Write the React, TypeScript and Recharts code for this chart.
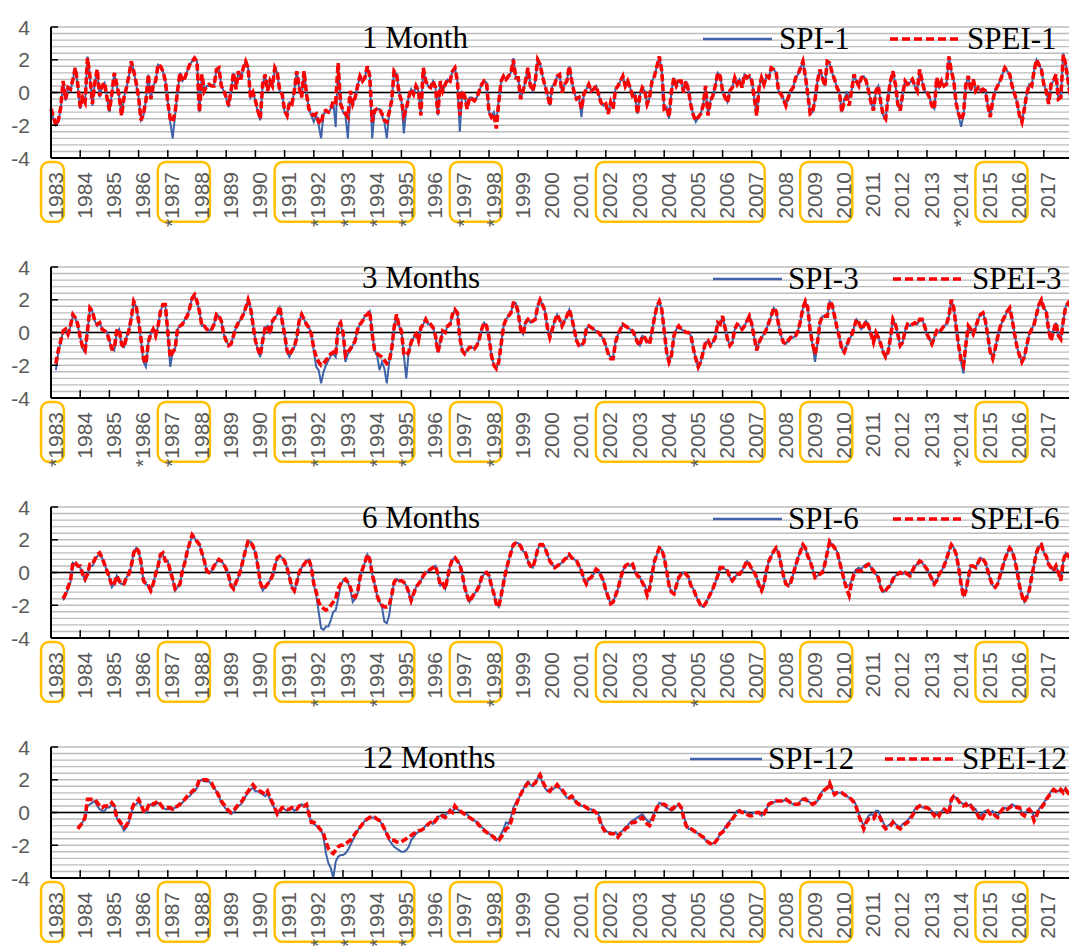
import {
  LineChart,
  Line,
  XAxis,
  YAxis,
  CartesianGrid,
  ReferenceLine,
  ReferenceArea,
  Customized,
} from "recharts";

// ---- data (monthly, Jan 1983 .. Dec 2017) ----

const yearLabels = [
  "1983", "1984", "1985", "1986", "1987", "1988", "1989", "1990", "1991", "1992",
  "1993", "1994", "1995", "1996", "1997", "1998", "1999", "2000", "2001", "2002",
  "2003", "2004", "2005", "2006", "2007", "2008", "2009", "2010", "2011", "2012",
  "2013", "2014", "2015", "2016", "2017",
];

const yTicks = [-4, -2, 0, 2, 4];
const gridValues = [
  -4, -3.6, -3.2, -2.8, -2.4, -2, -1.6, -1.2, -0.8, -0.4, 0,
  0.4, 0.8, 1.2, 1.6, 2, 2.4, 2.8, 3.2, 3.6, 4,
];

// highlighted year groups (orange boxes)
const boxGroups = [
  [1983, 1983], [1987, 1988], [1991, 1995], [1997, 1998],
  [2002, 2007], [2009, 2010], [2015, 2016],
];

// years marked with an asterisk, per panel
const stars1 = [1987, 1992, 1993, 1994, 1995, 1997, 1998, 2014];
const stars3 = [1983, 1986, 1987, 1992, 1994, 1995, 1998, 2005, 2014];
const stars6 = [1992, 1994, 1998, 2005];
const stars12 = [1992, 1993, 1994, 1995];

const spi1 = [
  -1.1, -1.6, -2.0, -1.8, -1.0, 0.7, -0.5, 0.3, 0.1, 0.8, 1.5, 0.4,
  -1.0, -0.4, -0.6, 2.2, 1.0, -0.8, 0.6, 1.4, -0.3, 0.4, 0.6, -0.3,
  -1.2, -0.1, 1.2, 0.4, -0.2, -1.4, -0.3, 0.3, 1.0, 1.9, 1.3, 0.5,
  -0.3, -1.7, -1.4, -0.5, 1.1, -0.4, 0.4, 0.7, 1.7, 1.6, 1.3, 0.7,
  -0.6, -1.8, -2.8, -1.4, 0.0, 1.2, 0.7, 0.9, 1.3, 1.7, 1.9, 2.1,
  1.9, -1.2, 1.1, 0.1, 0.4, 0.4, 0.4, 0.4, 1.4, 1.5, 0.4, 0.1,
  -0.3, -0.9, 0.1, 1.2, 0.2, 1.3, 0.8, 1.5, 1.9, 1.5, -0.3, 0.0,
  -0.5, -1.2, -1.7, 0.5, 1.1, 0.1, 0.7, 0.4, 1.5, 1.2, 0.1, -0.1,
  -1.2, -1.4, -0.6, -0.7, 0.1, 1.3, 0.3, -0.3, 1.3, -0.1, -1.0, -1.4,
  -1.8, -1.4, -2.0, -2.8, -1.3, -1.2, -1.2, -1.0, -0.6, -2.1, 1.8, -0.6,
  -1.2, -1.4, -2.8, -0.2, -0.7, -0.3, 0.4, 1.0, 0.7, 0.9, 1.6, 1.0,
  -2.8, -1.1, -1.0, -1.0, -1.4, -1.8, -2.8, -1.2, -0.5, 1.3, 1.1, 0.0,
  -0.5, -2.5, -1.0, -0.3, 0.2, -0.1, 0.4, 0.1, -1.4, 1.5, 0.7, 0.4,
  0.3, 0.7, 0.3, -1.4, 0.7, 0.1, 0.5, 0.8, 0.7, 1.3, 1.5, 0.7,
  -2.4, 0.0, -0.2, -1.0, -0.3, -0.3, -0.5, -0.3, 0.1, 0.5, 0.7, 0.6,
  -1.2, -1.5, -1.2, -1.8, -0.5, 0.7, 1.0, 0.8, 1.0, 1.2, 2.1, 0.9,
  0.9, -0.4, 0.1, 0.7, 1.5, 0.4, 0.1, 0.7, 2.0, 1.7, 1.0, 0.4,
  -0.1, -0.8, 0.4, 0.5, 1.0, 1.1, 0.0, 0.5, 0.7, 1.6, 0.7, 0.0,
  -0.4, -0.3, -1.5, -0.1, 0.2, 0.5, 0.1, 0.2, 0.4, -0.1, -0.6, -0.8,
  -0.7, -1.3, -0.6, -1.0, 0.2, 0.4, 0.7, 1.0, 0.4, 0.7, 0.3, -0.2,
  -0.1, -1.3, -0.2, 0.3, 0.1, -0.7, -0.3, 0.7, 1.0, 1.6, 2.2, 1.3,
  -1.0, -0.9, -1.6, 0.1, 0.9, 0.4, 0.7, 0.7, 0.0, 0.7, 0.1, -0.8,
  -1.4, -1.8, -1.5, -1.3, -0.8, 0.4, -1.4, -0.5, -0.2, 0.4, 1.2, 1.0,
  0.1, -0.3, -0.6, 0.1, 0.3, 0.9, 0.5, 0.8, 0.3, 1.1, 0.9, 1.0,
  0.7, -0.3, -1.4, 0.3, 0.9, 0.5, 1.0, 0.9, 1.5, 1.4, 1.2, 0.1,
  -0.1, -0.4, -0.8, -0.3, 0.1, 0.3, 0.9, 1.1, 1.5, 1.9, 1.0, -0.1,
  -1.3, -1.2, -0.4, 0.7, 1.4, 0.9, 0.4, 1.9, 1.8, 1.2, 0.8, 0.3,
  0.0, -1.2, -0.4, 0.0, -0.3, 0.1, 1.1, 0.7, 0.4, 0.9, 1.0, 0.7,
  0.1, -0.6, -1.1, 0.1, 0.4, -0.6, -1.4, -1.6, -0.3, 0.7, 1.3, 0.5,
  -0.7, -1.1, -0.1, 0.7, 0.5, 0.6, 0.8, 0.4, 0.1, 1.4, 0.7, 0.1,
  0.0, -0.3, -0.8, -1.0, 0.9, 0.3, 0.7, 0.4, 0.5, 2.2, 1.3, 0.7,
  -0.7, -1.4, -2.1, -1.4, 0.5, 1.0, 0.1, 0.8, 0.1, 0.3, 0.1, 0.2,
  0.1, -0.8, -1.5, -0.5, 0.1, 0.4, 0.7, 1.1, 1.5, 1.3, 1.1, 0.4,
  -0.1, -0.6, -1.4, -1.8, -1.0, -0.1, 0.5, 0.4, 1.3, 2.0, 1.7, 1.4,
  0.5, 0.1, -0.7, 0.5, 0.7, 1.1, -0.4, -0.3, 2.4, 1.7, 0.7, -0.4,
];

const spei1 = [
  -1.0, -1.5, -2.0, -1.7, -0.9, 0.7, -0.4, 0.3, 0.2, 0.8, 1.5, 0.5,
  -0.9, -0.3, -0.6, 2.1, 1.0, -0.7, 0.6, 1.4, -0.2, 0.4, 0.6, -0.3,
  -1.1, -0.1, 1.2, 0.5, -0.2, -1.4, -0.3, 0.3, 1.0, 1.9, 1.3, 0.6,
  -0.3, -1.7, -1.3, -0.5, 1.1, -0.4, 0.4, 0.7, 1.7, 1.6, 1.3, 0.7,
  -0.6, -1.6, -1.8, -1.2, 0.1, 1.2, 0.7, 0.9, 1.3, 1.7, 1.9, 2.1,
  1.9, -1.2, 1.1, 0.1, 0.4, 0.5, 0.4, 0.4, 1.4, 1.5, 0.4, 0.1,
  -0.3, -0.8, 0.1, 1.2, 0.2, 1.3, 0.8, 1.5, 1.9, 1.5, -0.3, 0.0,
  -0.5, -1.1, -1.6, 0.5, 1.1, 0.1, 0.7, 0.4, 1.5, 1.2, 0.1, -0.1,
  -1.1, -1.4, -0.6, -0.7, 0.1, 1.3, 0.3, -0.3, 1.3, -0.1, -1.0, -1.3,
  -1.4, -1.3, -1.8, -1.9, -1.2, -1.1, -1.2, -1.0, -0.5, -0.6, 1.8, -0.7,
  -1.1, -1.3, -1.5, 0.1, -0.7, -0.3, 0.4, 1.0, 0.7, 0.9, 1.6, 1.0,
  -1.8, -1.1, -1.0, -1.0, -1.3, -1.7, -1.8, -1.2, -0.5, 1.3, 1.1, 0.0,
  -0.5, -1.4, -1.0, -0.3, 0.2, -0.1, 0.4, 0.1, -1.4, 1.5, 0.7, 0.4,
  0.3, 0.7, 0.3, -1.3, 0.7, 0.1, 0.5, 0.8, 0.7, 1.3, 1.5, 0.7,
  -1.4, 0.1, -0.2, -1.0, -0.3, -0.4, -0.5, -0.3, 0.1, 0.5, 0.7, 0.6,
  -1.2, -1.5, -1.3, -2.2, -0.6, 0.7, 1.0, 0.8, 1.0, 1.2, 2.0, 0.9,
  0.9, -0.4, 0.1, 0.7, 1.5, 0.4, 0.1, 0.7, 2.0, 1.7, 1.0, 0.4,
  -0.1, -0.8, 0.4, 0.5, 1.0, 1.1, 0.0, 0.5, 0.7, 1.6, 0.7, 0.0,
  -0.4, -0.3, -1.0, -0.1, 0.2, 0.5, 0.1, 0.2, 0.4, -0.1, -0.6, -0.8,
  -0.7, -1.3, -0.6, -1.0, 0.2, 0.4, 0.7, 1.0, 0.4, 0.7, 0.3, -0.2,
  -0.1, -1.3, -0.2, 0.3, 0.1, -0.7, -0.3, 0.7, 1.0, 1.6, 2.2, 1.3,
  -1.0, -0.9, -1.5, 0.1, 0.9, 0.4, 0.7, 0.7, 0.0, 0.7, 0.1, -0.8,
  -1.4, -1.7, -1.5, -1.3, -0.8, 0.4, -1.4, -0.5, -0.2, 0.4, 1.2, 1.0,
  0.1, -0.3, -0.6, 0.1, 0.3, 0.9, 0.5, 0.8, 0.3, 1.1, 0.9, 1.0,
  0.7, -0.3, -1.4, 0.3, 0.9, 0.5, 1.0, 0.9, 1.5, 1.4, 1.2, 0.1,
  -0.1, -0.4, -0.8, -0.3, 0.1, 0.3, 0.9, 1.1, 1.5, 1.9, 1.0, -0.1,
  -1.3, -1.2, -0.4, 0.7, 1.4, 0.9, 0.4, 1.9, 1.8, 1.2, 0.8, 0.3,
  0.0, -1.2, -0.5, -0.3, -0.8, 0.1, 1.1, 0.7, 0.4, 0.9, 1.0, 0.7,
  0.1, -0.6, -1.1, 0.1, 0.4, -0.6, -1.4, -1.6, -0.3, 0.7, 1.3, 0.5,
  -0.7, -1.1, -0.1, 0.7, 0.5, 0.6, 0.8, 0.4, 0.1, 1.4, 0.7, 0.1,
  0.0, -0.3, -0.8, -1.0, 0.9, 0.3, 0.7, 0.4, 0.5, 2.2, 1.3, 0.7,
  -0.7, -1.3, -1.7, -1.3, 0.5, 1.0, 0.1, 0.8, 0.1, 0.3, 0.1, 0.2,
  0.1, -0.8, -1.5, -0.5, 0.1, 0.4, 0.7, 1.1, 1.5, 1.3, 1.1, 0.4,
  -0.1, -0.6, -1.4, -1.8, -1.0, -0.1, 0.5, 0.4, 1.3, 2.0, 1.7, 1.4,
  0.5, 0.1, -0.7, 0.5, 0.7, 1.1, -0.4, -0.3, 2.3, 1.7, 0.7, -0.4,
];

const spi3 = [
  null, null, -2.3, -1.2, -0.6, 0.1, 0.2, -0.1, 0.4, 1.0, 0.9, 0.4,
  -0.3, -1.0, -1.2, 0.1, 1.4, 1.3, 0.7, 0.4, 0.6, 0.2, 0.1, 0.0,
  -0.5, -1.0, -1.1, 0.0, 0.2, -0.8, -0.9, -0.3, 0.1, 0.9, 1.8, 1.6,
  0.7, -0.5, -1.8, -2.1, -0.6, -0.1, 0.2, -0.2, 0.4, 1.3, 1.7, 1.7,
  0.0, -2.1, -1.2, -1.0, 0.2, 0.4, 0.5, 0.8, 1.0, 1.5, 2.1, 2.2,
  1.9, 1.3, 0.4, 0.4, 0.2, 0.1, 0.2, 0.5, 1.1, 1.0, 0.7, -0.1,
  -0.5, -0.8, -0.7, -0.2, 0.3, 0.6, 0.8, 1.1, 1.5, 2.0, 1.5, 0.5,
  -0.5, -1.1, -1.5, -0.5, 0.3, 0.4, -0.1, 0.7, 0.9, 1.1, 1.5, 0.7,
  -0.1, -1.2, -1.5, -1.1, -0.9, -0.3, 0.7, 1.1, 0.8, 0.5, 0.3, -0.1,
  -1.1, -2.1, -2.3, -3.1, -2.4, -2.0, -1.7, -1.4, -1.3, -1.5, 0.4, 0.5,
  -0.1, -1.8, -1.3, -1.1, -0.8, -0.5, 0.2, 0.5, 0.7, 1.0, 1.1, 1.3,
  -0.1, -1.1, -1.4, -2.3, -1.8, -2.2, -3.1, -1.8, -1.0, 0.3, 1.1, 0.4,
  0.1, -1.4, -2.8, -1.2, -0.6, -0.3, -0.1, -0.5, 0.3, 0.5, 0.8, 0.5,
  0.5, 0.3, -0.2, -1.2, -0.6, 0.1, 0.0, 0.4, 0.5, 1.1, 1.4, 1.2,
  -0.3, -1.1, -1.3, -1.1, -0.9, -0.9, -1.0, -0.8, -0.4, 0.2, 0.6, 0.4,
  -0.3, -1.4, -2.0, -2.2, -1.8, -0.7, 0.4, 0.8, 1.0, 1.2, 1.8, 1.8,
  1.2, 0.2, -0.1, 0.6, 0.8, 0.6, 0.7, 0.8, 1.6, 2.0, 1.7, 1.3,
  0.3, -0.3, 0.2, 0.7, 1.1, 0.8, 0.4, 0.7, 1.0, 1.4, 0.9, 0.2,
  -0.5, -0.8, -0.8, -0.6, 0.2, 0.4, 0.3, 0.2, 0.1, 0.0, -0.2, -0.4,
  -0.8, -1.3, -1.5, -1.5, -0.6, -0.1, 0.2, 0.5, 0.4, 0.3, 0.2, 0.1,
  -0.2, -0.6, -0.8, -0.2, -0.3, -0.6, -0.6, 0.1, 0.9, 1.6, 1.9, 1.4,
  0.1, -1.2, -1.8, -1.4, -0.2, 0.2, 0.4, 0.2, 0.1, 0.0, 0.0, -0.2,
  -1.0, -1.6, -2.2, -1.8, -1.2, -0.6, -0.5, -0.8, -0.6, -0.3, 0.6, 0.5,
  1.0, 0.3, -0.4, -0.8, -0.6, 0.2, 0.5, 0.4, 0.2, 0.4, 0.7, 1.0,
  0.5, -0.3, -1.1, -0.6, -0.3, -0.1, 0.2, 0.6, 1.0, 1.5, 1.3, 0.5,
  -0.2, -0.6, -0.7, -0.5, -0.3, -0.3, -0.2, 0.1, 0.7, 1.5, 1.9, 1.5,
  0.1, -0.8, -1.8, -0.6, 0.6, 1.0, 1.0, 1.0, 1.9, 1.7, 1.0, 0.3,
  -0.3, -1.0, -1.2, -0.8, -0.4, -0.2, 0.3, 0.8, 0.6, 0.2, 0.4, 0.7,
  0.4, -0.1, -0.6, 0.0, -0.3, -0.7, -1.2, -1.5, -1.2, -0.3, 0.8, 0.5,
  -0.1, -0.8, -0.6, 0.1, 0.5, 0.4, 0.5, 0.6, 0.5, 0.8, 0.8, 0.4,
  -0.1, -0.4, -0.7, -0.3, 0.1, 0.0, 0.2, 0.4, 0.5, 1.0, 2.0, 1.5,
  0.3, -0.8, -1.8, -2.5, -0.7, 0.4, 0.2, -0.1, 0.3, 0.8, 1.1, 1.2,
  0.7, -0.2, -1.2, -1.6, -1.0, -0.3, 0.3, 0.7, 1.0, 1.3, 1.5, 0.8,
  -0.1, -0.9, -1.4, -1.8, -1.5, -0.8, -0.1, 0.2, 0.5, 1.1, 1.7, 2.0,
  1.5, 1.3, 0.1, 0.0, 0.1, 0.6, -0.2, -0.4, 0.7, 1.6, 1.8, 1.5,
];

const spei3 = [
  null, null, -1.9, -1.1, -0.5, 0.1, 0.2, -0.1, 0.4, 1.1, 0.9, 0.5,
  -0.3, -0.9, -1.1, 0.1, 1.5, 1.3, 0.7, 0.5, 0.6, 0.2, 0.1, 0.0,
  -0.5, -1.0, -1.0, 0.1, 0.2, -0.7, -0.9, -0.3, 0.1, 0.9, 1.9, 1.6,
  0.7, -0.4, -1.6, -1.9, -0.6, -0.1, 0.2, -0.2, 0.4, 1.3, 1.7, 1.7,
  0.0, -1.5, -1.2, -1.0, 0.2, 0.4, 0.5, 0.8, 1.0, 1.5, 2.1, 2.3,
  1.9, 1.3, 0.4, 0.4, 0.2, 0.1, 0.2, 0.5, 1.1, 1.0, 0.7, -0.1,
  -0.5, -0.8, -0.7, -0.2, 0.3, 0.6, 0.8, 1.1, 1.5, 2.0, 1.5, 0.5,
  -0.5, -1.0, -1.4, -0.5, 0.3, 0.4, -0.1, 0.7, 0.9, 1.1, 1.6, 0.7,
  -0.1, -1.1, -1.4, -1.1, -0.9, -0.3, 0.7, 1.1, 0.8, 0.5, 0.3, -0.1,
  -1.0, -1.5, -1.8, -2.0, -1.9, -1.7, -1.5, -1.3, -1.2, -1.4, 0.4, 0.6,
  0.0, -1.4, -1.2, -1.0, -0.8, -0.5, 0.2, 0.5, 0.7, 1.0, 1.1, 1.3,
  -0.1, -1.1, -1.3, -1.4, -1.5, -1.7, -1.9, -1.8, -1.0, 0.3, 1.1, 0.4,
  0.1, -1.3, -1.4, -1.2, -0.6, -0.3, -0.1, -0.5, 0.3, 0.5, 0.8, 0.5,
  0.5, 0.3, -0.2, -1.2, -0.6, 0.1, 0.0, 0.4, 0.5, 1.1, 1.4, 1.2,
  -0.3, -1.1, -1.3, -1.1, -0.9, -0.9, -1.0, -0.8, -0.4, 0.2, 0.6, 0.4,
  -0.3, -1.4, -2.0, -2.2, -1.8, -0.7, 0.4, 0.8, 1.0, 1.2, 1.8, 1.8,
  1.2, 0.2, -0.1, 0.6, 0.8, 0.6, 0.7, 0.8, 1.6, 2.0, 1.7, 1.3,
  0.3, -0.3, 0.2, 0.7, 1.1, 0.8, 0.4, 0.7, 1.0, 1.4, 0.9, 0.2,
  -0.5, -0.8, -0.8, -0.6, 0.2, 0.4, 0.3, 0.2, 0.1, 0.0, -0.2, -0.4,
  -0.8, -1.3, -1.6, -1.6, -0.6, -0.1, 0.2, 0.5, 0.4, 0.3, 0.2, 0.1,
  -0.2, -0.6, -0.8, -0.2, -0.3, -0.6, -0.7, 0.1, 0.9, 1.6, 1.9, 1.4,
  0.1, -1.2, -1.8, -1.4, -0.2, 0.2, 0.4, 0.2, 0.1, 0.0, 0.0, -0.2,
  -1.0, -1.6, -2.1, -1.8, -1.2, -0.6, -0.5, -0.8, -0.6, -0.3, 0.6, 0.5,
  1.0, 0.3, -0.4, -0.8, -0.6, 0.2, 0.5, 0.4, 0.2, 0.4, 0.7, 1.0,
  0.5, -0.3, -1.1, -0.6, -0.3, -0.1, 0.2, 0.6, 1.0, 1.5, 1.3, 0.5,
  -0.2, -0.6, -0.7, -0.5, -0.3, -0.3, -0.2, 0.1, 0.7, 1.5, 1.9, 1.5,
  0.1, -0.7, -1.3, -0.6, 0.6, 1.0, 1.0, 1.0, 1.9, 1.7, 1.0, 0.3,
  -0.3, -1.0, -1.2, -0.8, -0.4, -0.2, 0.3, 0.8, 0.6, 0.2, 0.4, 0.7,
  0.4, -0.1, -0.6, 0.0, -0.3, -0.7, -1.2, -1.5, -1.2, -0.3, 0.8, 0.5,
  -0.1, -0.8, -0.6, 0.1, 0.5, 0.4, 0.5, 0.6, 0.5, 0.8, 0.8, 0.4,
  -0.1, -0.4, -0.7, -0.3, 0.1, 0.0, 0.2, 0.4, 0.5, 1.0, 2.0, 1.5,
  0.3, -0.8, -1.7, -2.0, -0.7, 0.4, 0.2, -0.1, 0.3, 0.8, 1.1, 1.2,
  0.7, -0.2, -1.2, -1.6, -1.0, -0.3, 0.3, 0.7, 1.0, 1.3, 1.5, 0.8,
  -0.1, -0.9, -1.4, -1.8, -1.5, -0.8, -0.1, 0.2, 0.5, 1.1, 1.7, 2.0,
  1.5, 1.3, 0.1, -0.5, 0.1, 0.6, -0.2, -0.4, 0.7, 1.6, 1.8, 1.5,
];

const spi6 = [
  null, null, null, null, null, -1.7, -1.4, -1.0, -0.6, 0.6, 0.5, 0.4,
  0.3, -0.1, -0.5, -0.1, 0.4, 0.4, 0.7, 1.0, 1.1, 0.9, 0.5, 0.1,
  -0.3, -0.9, -0.7, -0.2, -0.6, -0.7, -0.7, -0.3, -0.1, 0.4, 1.2, 1.5,
  1.3, 0.6, -0.5, -0.7, -0.8, -1.1, -0.7, -0.1, 0.4, 1.1, 1.1, 0.7,
  0.7, 0.1, -0.4, -1.1, -0.9, -0.7, 0.1, 0.6, 1.3, 1.8, 2.2, 2.1,
  1.9, 1.7, 1.2, 0.7, 0.1, 0.0, 0.1, 0.4, 0.6, 0.8, 0.7, 0.5,
  0.2, -0.2, -0.9, -1.0, -0.6, -0.3, 0.2, 0.8, 1.4, 1.9, 1.9, 1.6,
  1.2, 0.4, -0.6, -1.1, -0.9, -0.7, -0.5, -0.2, 0.4, 0.9, 1.0, 0.9,
  0.7, 0.3, -0.3, -0.9, -1.2, -0.6, 0.0, 0.3, 0.5, 0.7, 0.8, 0.3,
  -0.7, -1.4, -2.4, -3.4, -3.5, -3.3, -3.3, -2.9, -2.4, -2.3, -1.6, -0.8,
  -0.5, -0.4, -0.6, -1.0, -1.8, -1.6, -1.3, -0.3, 0.2, 0.6, 1.1, 0.8,
  -0.1, -0.7, -1.4, -1.8, -2.1, -3.0, -3.1, -2.6, -1.4, -0.6, -0.4, -0.5,
  -0.5, -0.6, -0.8, -1.2, -1.8, -1.3, -0.9, -0.7, -0.5, -0.2, 0.0, 0.1,
  0.2, 0.3, 0.4, -0.1, -0.8, -0.7, -1.0, -0.3, 0.4, 0.8, 0.9, 0.7,
  0.5, -0.1, -0.9, -1.4, -1.8, -1.5, -1.3, -1.1, -0.8, -0.3, -0.1, 0.0,
  -0.2, -0.8, -1.3, -1.9, -2.1, -1.4, -0.6, 0.1, 0.7, 1.2, 1.7, 1.8,
  1.8, 1.6, 1.3, 1.2, 0.7, 0.4, 0.3, 0.8, 1.4, 1.7, 1.7, 1.5,
  1.1, 0.7, 0.5, 0.3, 0.4, 0.5, 0.6, 0.8, 0.9, 1.1, 0.9, 0.8,
  0.7, 0.4, 0.1, -0.4, -0.7, -0.4, -0.3, -0.1, 0.2, 0.1, -0.2, -0.5,
  -1.1, -1.5, -1.9, -1.8, -1.4, -1.0, -0.4, 0.1, 0.4, 0.5, 0.4, 0.5,
  0.1, -0.2, -0.3, -0.6, -0.8, -1.2, -0.9, -0.1, 0.7, 1.1, 1.5, 1.4,
  0.9, 0.1, -0.8, -1.2, -1.3, -0.8, -0.3, -0.1, 0.0, -0.1, -0.3, -0.8,
  -1.0, -1.4, -1.7, -2.0, -2.1, -1.9, -1.6, -1.3, -1.0, -0.6, -0.2, 0.3,
  0.3, 0.2, 0.1, -0.3, -0.5, -0.3, -0.1, -0.1, 0.1, 0.4, 0.7, 0.5,
  0.2, 0.0, -0.3, -0.8, -1.1, -0.7, 0.1, 0.7, 1.0, 1.3, 1.5, 1.2,
  0.5, -0.2, -0.7, -0.8, -0.6, -0.1, 0.4, 0.9, 1.3, 1.7, 1.5, 1.0,
  0.7, 0.2, -0.3, -0.2, -0.1, 0.0, 0.5, 1.2, 1.9, 1.7, 1.5, 1.3,
  0.7, 0.1, -0.5, -0.8, -0.8, -0.5, 0.0, 0.2, 0.3, 0.2, 0.4, 0.5,
  0.5, 0.3, 0.1, -0.1, -0.3, -0.9, -1.2, -1.1, -0.9, -0.8, -0.4, -0.2,
  -0.1, 0.0, -0.1, 0.0, -0.1, -0.2, 0.1, 0.4, 0.5, 0.7, 0.6, 0.4,
  0.2, -0.1, -0.4, -0.7, -0.5, -0.1, 0.1, 0.4, 0.8, 1.3, 1.7, 1.5,
  1.1, 0.3, -0.7, -1.4, -1.1, -0.3, 0.4, 0.4, 0.3, 0.6, 0.9, 0.8,
  0.6, 0.1, -0.4, -0.8, -0.9, -0.7, -0.2, 0.3, 0.8, 1.2, 1.5, 1.3,
  0.8, 0.1, -0.8, -1.4, -1.8, -1.5, -1.1, -0.3, 0.5, 1.2, 1.6, 1.7,
  1.2, 1.0, 0.5, 0.3, 0.1, 0.4, 0.0, -0.5, 0.7, 1.2, 1.0, 0.9,
];

const spei6 = [
  null, null, null, null, null, -1.6, -1.3, -0.9, -0.5, 0.6, 0.6, 0.4,
  0.4, -0.1, -0.4, -0.1, 0.5, 0.5, 0.8, 1.1, 1.2, 0.9, 0.5, 0.1,
  -0.3, -0.8, -0.7, -0.2, -0.5, -0.7, -0.7, -0.3, -0.1, 0.4, 1.2, 1.5,
  1.3, 0.6, -0.5, -0.7, -0.8, -1.1, -0.7, -0.1, 0.4, 1.1, 1.2, 0.7,
  0.7, 0.1, -0.4, -1.0, -0.9, -0.7, 0.1, 0.6, 1.3, 1.8, 2.3, 2.1,
  1.9, 1.7, 1.2, 0.7, 0.1, 0.0, 0.1, 0.4, 0.6, 0.8, 0.7, 0.5,
  0.2, -0.2, -0.8, -1.0, -0.6, -0.3, 0.2, 0.8, 1.4, 1.9, 1.9, 1.6,
  1.2, 0.4, -0.6, -1.0, -0.9, -0.7, -0.5, -0.2, 0.4, 0.9, 1.0, 0.9,
  0.7, 0.3, -0.3, -0.9, -1.1, -0.6, 0.0, 0.3, 0.5, 0.7, 0.8, 0.3,
  -0.7, -1.2, -1.8, -2.1, -2.2, -2.3, -2.2, -2.0, -1.8, -1.6, -1.0, -0.7,
  -0.5, -0.4, -0.6, -0.9, -1.4, -1.5, -1.2, -0.3, 0.2, 0.6, 1.1, 0.8,
  -0.1, -0.7, -1.4, -1.8, -2.0, -2.1, -2.1, -2.0, -1.4, -0.6, -0.4, -0.5,
  -0.5, -0.6, -0.8, -1.2, -1.7, -1.3, -0.9, -0.7, -0.5, -0.2, 0.0, 0.1,
  0.2, 0.3, 0.4, -0.1, -0.8, -0.7, -1.0, -0.3, 0.4, 0.8, 0.9, 0.7,
  0.5, -0.1, -0.9, -1.4, -1.8, -1.5, -1.3, -1.1, -0.8, -0.3, -0.1, 0.0,
  -0.2, -0.8, -1.3, -1.9, -2.1, -1.4, -0.6, 0.1, 0.7, 1.2, 1.7, 1.8,
  1.8, 1.6, 1.3, 1.2, 0.7, 0.4, 0.3, 0.8, 1.4, 1.7, 1.7, 1.5,
  1.1, 0.7, 0.5, 0.3, 0.4, 0.5, 0.6, 0.8, 0.9, 1.1, 0.9, 0.8,
  0.7, 0.4, 0.1, -0.4, -0.7, -0.4, -0.3, -0.1, 0.2, 0.1, -0.2, -0.5,
  -1.1, -1.5, -1.9, -1.8, -1.4, -1.0, -0.4, 0.1, 0.4, 0.5, 0.4, 0.5,
  0.1, -0.2, -0.3, -0.6, -0.9, -1.4, -1.0, -0.1, 0.7, 1.1, 1.5, 1.4,
  0.9, 0.1, -0.8, -1.2, -1.3, -0.8, -0.3, -0.1, 0.0, -0.1, -0.3, -0.8,
  -1.0, -1.4, -1.7, -2.0, -2.1, -1.9, -1.6, -1.3, -1.0, -0.6, -0.2, 0.3,
  0.3, 0.2, 0.1, -0.3, -0.5, -0.3, -0.1, -0.1, 0.1, 0.4, 0.7, 0.5,
  0.2, 0.0, -0.3, -0.8, -1.1, -0.7, 0.1, 0.7, 1.0, 1.3, 1.5, 1.2,
  0.5, -0.2, -0.7, -0.8, -0.6, -0.1, 0.4, 0.9, 1.3, 1.7, 1.5, 1.0,
  0.7, 0.2, -0.3, -0.2, -0.1, 0.0, 0.5, 1.2, 1.9, 1.7, 1.5, 1.3,
  0.7, 0.1, -0.5, -1.0, -1.4, -0.6, -0.1, 0.1, 0.1, 0.1, 0.3, 0.4,
  0.5, 0.3, 0.1, -0.1, -0.3, -0.9, -1.2, -1.1, -0.9, -0.8, -0.4, -0.2,
  -0.1, 0.0, -0.1, 0.0, -0.1, -0.2, 0.1, 0.4, 0.5, 0.7, 0.6, 0.4,
  0.2, -0.1, -0.4, -0.7, -0.5, -0.1, 0.1, 0.4, 0.8, 1.3, 1.7, 1.5,
  1.1, 0.3, -0.7, -1.5, -1.1, -0.3, 0.4, 0.4, 0.3, 0.6, 0.9, 0.8,
  0.6, 0.1, -0.4, -0.8, -0.9, -0.7, -0.2, 0.3, 0.8, 1.2, 1.5, 1.3,
  0.8, 0.1, -0.8, -1.4, -1.8, -1.5, -1.1, -0.3, 0.5, 1.2, 1.6, 1.7,
  1.2, 1.0, 0.5, 0.3, 0.1, 0.4, 0.0, -0.5, 0.7, 1.2, 1.0, 0.9,
];

const spi12 = [
  null, null, null, null, null, null, null, null, null, null, null, -0.9,
  -0.8, -0.6, -0.3, 0.4, 0.5, 0.6, 0.7, 0.4, 0.2, 0.1, 0.1, 0.3,
  0.3, 0.5, 0.4, -0.3, -0.6, -0.8, -1.1, -0.9, -0.6, 0.0, 0.4, 0.5,
  0.7, 0.4, 0.1, 0.0, 0.4, 0.5, 0.4, 0.5, 0.6, 0.5, 0.3, 0.2,
  0.2, 0.2, 0.2, 0.3, 0.4, 0.5, 0.6, 0.8, 0.9, 1.0, 1.2, 1.3,
  1.5, 1.9, 2.0, 1.9, 1.9, 1.9, 1.7, 1.5, 1.3, 1.0, 0.6, 0.4,
  0.2, 0.0, -0.1, 0.0, 0.2, 0.4, 0.5, 0.7, 1.0, 1.2, 1.4, 1.5,
  1.3, 1.3, 1.2, 1.1, 1.0, 1.2, 0.8, 0.5, 0.2, -0.1, 0.1, 0.3,
  0.2, 0.1, 0.2, 0.3, 0.1, 0.2, 0.4, 0.5, 0.4, 0.5, -0.1, -0.6,
  -0.7, -0.8, -1.0, -1.1, -1.5, -2.5, -3.1, -3.4, -4.0, -3.0, -2.7, -2.6,
  -2.6, -2.5, -2.3, -2.0, -1.7, -1.4, -1.1, -0.9, -0.7, -0.5, -0.4, -0.3,
  -0.3, -0.3, -0.4, -0.5, -0.7, -1.0, -1.3, -1.7, -1.9, -2.1, -2.2, -2.3,
  -2.4, -2.4, -2.3, -2.1, -1.7, -1.5, -1.3, -1.2, -1.1, -1.0, -0.8, -0.7,
  -0.6, -0.7, -0.5, -0.3, -0.2, -0.1, -0.2, 0.0, 0.2, 0.0, 0.3, 0.2,
  0.1, 0.0, -0.1, -0.1, -0.3, -0.4, -0.5, -0.6, -0.7, -0.9, -1.0, -1.2,
  -1.3, -1.4, -1.5, -1.7, -1.6, -1.3, -1.0, -0.6, -0.7, -0.3, 0.3, 0.6,
  0.8, 1.1, 1.4, 1.7, 1.9, 1.7, 1.6, 1.8, 2.1, 2.2, 1.8, 1.5,
  1.3, 1.3, 1.4, 1.5, 1.6, 1.5, 1.3, 1.1, 0.9, 0.9, 0.9, 0.8,
  0.6, 0.5, 0.4, 0.4, 0.3, 0.2, 0.2, 0.1, 0.0, -0.1, -0.6, -0.9,
  -1.1, -1.2, -1.2, -1.3, -1.2, -1.4, -1.2, -1.1, -0.9, -0.8, -0.6, -0.5,
  -0.4, -0.3, -0.2, -0.1, -0.3, -0.5, -0.6, -0.3, 0.0, 0.3, 0.6, 0.5,
  0.4, 0.3, 0.2, 0.1, 0.2, 0.4, 0.5, 0.3, -0.2, -0.7, -1.0, -1.0,
  -1.1, -1.2, -1.3, -1.4, -1.5, -1.7, -1.8, -1.9, -1.9, -1.8, -1.6, -1.3,
  -1.2, -0.9, -0.7, -0.5, -0.4, -0.1, 0.1, 0.1, 0.0, 0.1, 0.0, -0.1,
  -0.1, 0.0, 0.0, 0.0, -0.2, 0.0, 0.2, 0.5, 0.6, 0.6, 0.7, 0.7,
  0.7, 0.7, 0.8, 0.7, 0.6, 0.5, 0.5, 0.5, 0.7, 0.8, 0.9, 0.7,
  0.6, 0.5, 0.6, 0.7, 1.1, 1.3, 1.4, 1.5, 1.8, 1.4, 1.1, 1.2,
  1.2, 1.2, 1.1, 1.0, 0.9, 0.8, 0.7, 0.4, -0.1, -0.5, -0.8, -0.5,
  -0.2, -0.1, -0.2, 0.1, 0.1, -0.3, -0.6, -0.9, -0.8, -0.7, -0.5, -0.7,
  -0.8, -0.9, -0.7, -0.6, -0.5, -0.3, -0.1, 0.2, 0.4, 0.4, 0.3, 0.3,
  0.3, 0.2, 0.1, -0.1, 0.0, -0.1, 0.1, 0.2, 0.1, 0.0, 0.9, 1.0,
  0.9, 0.7, 0.6, 0.5, 0.6, 0.4, 0.5, 0.3, 0.2, -0.1, -0.2, 0.0,
  0.1, 0.1, 0.0, 0.1, -0.1, -0.2, 0.0, 0.2, 0.3, 0.2, 0.4, 0.5,
  0.4, 0.4, 0.3, 0.0, -0.1, 0.1, 0.2, 0.1, -0.3, -0.1, 0.2, 0.4,
  0.6, 0.8, 1.0, 1.3, 1.4, 1.3, 1.3, 1.4, 1.3, 1.5, 1.2, 1.1,
];

const spei12 = [
  null, null, null, null, null, null, null, null, null, null, null, -1.0,
  -0.8, -0.6, -0.3, 0.8, 0.8, 0.8, 0.8, 0.6, 0.4, 0.3, 0.4, 0.4,
  0.4, 0.6, 0.4, -0.3, -0.5, -0.7, -0.9, -0.8, -0.5, 0.1, 0.5, 0.6,
  0.8, 0.5, 0.1, 0.0, 0.4, 0.6, 0.5, 0.6, 0.7, 0.5, 0.3, 0.3,
  0.3, 0.3, 0.2, 0.3, 0.4, 0.5, 0.7, 0.8, 1.0, 1.1, 1.3, 1.4,
  1.6, 2.0, 2.0, 2.0, 2.0, 1.9, 1.8, 1.5, 1.3, 1.0, 0.7, 0.5,
  0.3, 0.1, 0.0, 0.1, 0.3, 0.5, 0.6, 0.8, 1.1, 1.3, 1.5, 1.7,
  1.5, 1.4, 1.3, 1.2, 1.1, 1.3, 0.9, 0.6, 0.3, -0.1, 0.1, 0.3,
  0.3, 0.2, 0.2, 0.3, 0.2, 0.2, 0.4, 0.5, 0.4, 0.5, -0.1, -0.6,
  -0.6, -0.7, -0.9, -1.1, -1.3, -1.8, -2.2, -2.4, -2.5, -2.3, -2.1, -2.0,
  -2.0, -1.9, -1.8, -1.7, -1.5, -1.3, -1.1, -0.9, -0.7, -0.5, -0.4, -0.3,
  -0.3, -0.3, -0.4, -0.5, -0.7, -1.0, -1.3, -1.6, -1.7, -1.7, -1.8, -1.8,
  -1.8, -1.7, -1.6, -1.5, -1.4, -1.3, -1.2, -1.1, -1.1, -1.0, -0.9, -0.7,
  -0.6, -0.7, -0.5, -0.3, -0.3, -0.2, -0.3, -0.1, 0.1, 0.0, 0.4, 0.2,
  0.1, 0.0, -0.1, -0.2, -0.3, -0.4, -0.5, -0.6, -0.8, -0.9, -1.1, -1.2,
  -1.3, -1.4, -1.5, -1.7, -1.7, -1.5, -1.3, -1.0, -0.9, -0.6, 0.0, 0.4,
  0.8, 1.1, 1.4, 1.6, 1.8, 1.8, 1.7, 1.8, 2.1, 2.3, 1.9, 1.6,
  1.4, 1.3, 1.5, 1.5, 1.7, 1.5, 1.4, 1.2, 1.0, 0.9, 1.0, 0.8,
  0.6, 0.5, 0.4, 0.4, 0.3, 0.2, 0.2, 0.1, 0.0, -0.2, -0.7, -1.0,
  -1.2, -1.2, -1.3, -1.3, -1.3, -1.5, -1.3, -1.2, -1.0, -0.9, -0.7, -0.6,
  -0.6, -0.5, -0.4, -0.3, -0.5, -0.7, -0.8, -0.5, -0.1, 0.3, 0.5, 0.5,
  0.5, 0.4, 0.3, 0.2, 0.3, 0.5, 0.5, 0.3, -0.3, -0.8, -1.0, -1.0,
  -1.1, -1.2, -1.3, -1.4, -1.5, -1.7, -1.8, -1.9, -2.0, -1.8, -1.6, -1.3,
  -1.2, -1.0, -0.8, -0.6, -0.4, -0.2, 0.0, 0.1, 0.0, 0.0, -0.1, -0.2,
  -0.2, -0.1, 0.0, 0.0, -0.2, -0.1, 0.2, 0.5, 0.6, 0.6, 0.7, 0.7,
  0.7, 0.7, 0.8, 0.7, 0.6, 0.5, 0.5, 0.5, 0.6, 0.8, 0.8, 0.7,
  0.6, 0.5, 0.6, 0.7, 1.0, 1.2, 1.4, 1.5, 1.8, 1.4, 1.1, 1.2,
  1.2, 1.2, 1.1, 1.0, 0.9, 0.8, 0.6, 0.3, -0.2, -0.6, -1.0, -0.6,
  -0.4, -0.4, -0.4, -0.1, -0.1, -0.4, -0.8, -1.0, -0.9, -0.8, -0.6, -0.8,
  -0.9, -1.0, -0.8, -0.7, -0.6, -0.4, -0.2, 0.1, 0.3, 0.4, 0.3, 0.3,
  0.3, 0.2, 0.0, -0.2, 0.0, -0.2, 0.1, 0.2, 0.1, -0.1, 0.8, 1.0,
  0.9, 0.7, 0.5, 0.4, 0.5, 0.3, 0.4, 0.2, 0.1, -0.2, -0.5, -0.3,
  0.0, 0.1, -0.1, 0.0, -0.2, -0.3, 0.0, 0.2, 0.3, 0.2, 0.3, 0.4,
  0.4, 0.3, 0.3, -0.1, -0.2, 0.1, 0.2, 0.0, -0.5, -0.2, 0.2, 0.3,
  0.5, 0.8, 1.0, 1.2, 1.4, 1.3, 1.2, 1.4, 1.2, 1.4, 1.2, 1.0,
];

// ---- styling ----

const BLUE = "#3e63a9";
const RED = "#ff0000";
const GOLD = "#ffc000";
const AXIS_GRAY = "#595959";
const SERIF = '"Liberation Serif", "Times New Roman", serif';
const SANS = '"Liberation Sans", Arial, sans-serif';

const PANEL_H = 240;

const panels = [
  {
    title: "1 Month", spiName: "SPI-1", speiName: "SPEI-1",
    spi: spi1, spei: spei1, stars: stars1,
    legend: { blue: [703, 772], spiX: 779, red: [890, 960], speiX: 967 },
  },
  {
    title: "3 Months", spiName: "SPI-3", speiName: "SPEI-3",
    spi: spi3, spei: spei3, stars: stars3,
    legend: { blue: [713, 782], spiX: 788, red: [893, 965], speiX: 972 },
  },
  {
    title: "6 Months", spiName: "SPI-6", speiName: "SPEI-6",
    spi: spi6, spei: spei6, stars: stars6,
    legend: { blue: [713, 782], spiX: 788, red: [893, 963], speiX: 970 },
  },
  {
    title: "12 Months", spiName: "SPI-12", speiName: "SPEI-12",
    spi: spi12, spei: spei12, stars: stars12,
    legend: { blue: [690, 762], spiX: 768, red: [885, 955], speiX: 962 },
  },
];

const yearTicks = yearLabels.map((_, k) => k * 12);

// eslint-disable-next-line @typescript-eslint/no-explicit-any
function YearTick({ x, y, payload, stars }: any) {
  const label = yearLabels[Math.round(payload.value / 12)];
  const text = (stars.includes(Number(label)) ? "*" : "") + label;
  const tx = x + 11.5;
  const ty = y + 14;
  return (
    <g>
      <line x1={x} x2={x} y1={y} y2={y - 8} stroke="#000" strokeWidth={1.5} />
      <text
        x={tx}
        y={ty}
        transform={`rotate(-90 ${tx} ${ty})`}
        textAnchor="end"
        fontSize={21}
        fontFamily={SANS}
        fill={AXIS_GRAY}
      >
        {text}
      </text>
    </g>
  );
}

// eslint-disable-next-line @typescript-eslint/no-explicit-any
function ValueTick({ x, y, payload }: any) {
  return (
    <g>
      <line x1={x} x2={x + 7} y1={y} y2={y} stroke="#000" strokeWidth={1.5} />
      <text
        x={x - 21}
        y={y}
        dy="0.36em"
        textAnchor="end"
        fontSize={21}
        fontFamily={SANS}
        fill={AXIS_GRAY}
      >
        {payload.value}
      </text>
    </g>
  );
}

// eslint-disable-next-line @typescript-eslint/no-explicit-any
function BoxShape(props: any) {
  const { x, y, width, height } = props;
  const top = Math.min(y, y + height);
  const left = Math.min(x, x + width);
  return (
    <rect
      x={left}
      y={top}
      width={Math.abs(width)}
      height={Math.abs(height)}
      rx={8}
      ry={8}
      fill="none"
      stroke={GOLD}
      strokeWidth={2.5}
    />
  );
}

// eslint-disable-next-line @typescript-eslint/no-explicit-any
function PanelText({ panel }: any) {
  const lg = panel.legend;
  const textProps = { fontFamily: SERIF, fontSize: 31, fill: "#000" };
  return (
    <g>
      <text x={362} y={48} {...textProps}>
        {panel.title}
      </text>
      <line x1={lg.blue[0]} x2={lg.blue[1]} y1={39} y2={39} stroke={BLUE} strokeWidth={2.5} />
      <text x={lg.spiX} y={49} {...textProps}>
        {panel.spiName}
      </text>
      <line
        x1={lg.red[0]}
        x2={lg.red[1]}
        y1={39}
        y2={39}
        stroke={RED}
        strokeWidth={3.5}
        strokeDasharray="8 4"
      />
      <text x={lg.speiX} y={49} {...textProps}>
        {panel.speiName}
      </text>
    </g>
  );
}

// eslint-disable-next-line @typescript-eslint/no-explicit-any
function Panel({ panel }: any) {
  const rows = panel.spi.map((v: number | null, i: number) => ({
    i,
    spi: v,
    spei: panel.spei[i],
  }));

  return (
    <LineChart
      width={1080}
      height={PANEL_H}
      data={rows}
      margin={{ top: 27, right: 7, bottom: 0, left: 0 }}
    >
      <CartesianGrid
        vertical={false}
        horizontalValues={gridValues}
        stroke="#bcbcbc"
        strokeWidth={1.4}
      />
      <XAxis
        type="number"
        dataKey="i"
        domain={[0, 420]}
        ticks={yearTicks}
        interval={0}
        height={82}
        tickSize={0}
        tickMargin={0}
        tickLine={false}
        axisLine={{ stroke: "#000", strokeWidth: 2 }}
        tick={(p: any) => <YearTick {...p} stars={panel.stars} />}
      />
      <YAxis
        domain={[-4, 4]}
        ticks={yTicks}
        interval={0}
        width={51}
        tickSize={0}
        tickMargin={0}
        tickLine={false}
        axisLine={{ stroke: "#000", strokeWidth: 2 }}
        tick={(p: any) => <ValueTick {...p} />}
      />
      <ReferenceLine y={0} stroke="#000" strokeWidth={1.5} />
      {boxGroups.map(([a, b]) => (
        <ReferenceArea
          key={a}
          x1={(a - 1983) * 12 - 4.1}
          x2={(b - 1983) * 12 + 5.3}
          y1={-7.9}
          y2={-4.25}
          ifOverflow="visible"
          shape={(p: any) => <BoxShape {...p} />}
        />
      ))}
      <Line
        type="linear"
        dataKey="spi"
        stroke={BLUE}
        strokeWidth={2}
        dot={false}
        activeDot={false}
        isAnimationActive={false}
      />
      <Line
        type="linear"
        dataKey="spei"
        stroke={RED}
        strokeWidth={3.6}
        strokeDasharray="7 3"
        dot={false}
        activeDot={false}
        isAnimationActive={false}
      />
      <Customized component={() => <PanelText panel={panel} />} />
    </LineChart>
  );
}

export default function App() {
  return (
    <div
      style={{
        position: "absolute",
        left: 0,
        top: 0,
        width: 1069,
        height: 946,
        overflow: "hidden",
        background: "#fff",
      }}
    >
      {panels.map((panel, k) => (
        <div
          key={panel.title}
          style={{ position: "absolute", left: 0, top: k * PANEL_H }}
        >
          <Panel panel={panel} />
        </div>
      ))}
    </div>
  );
}
